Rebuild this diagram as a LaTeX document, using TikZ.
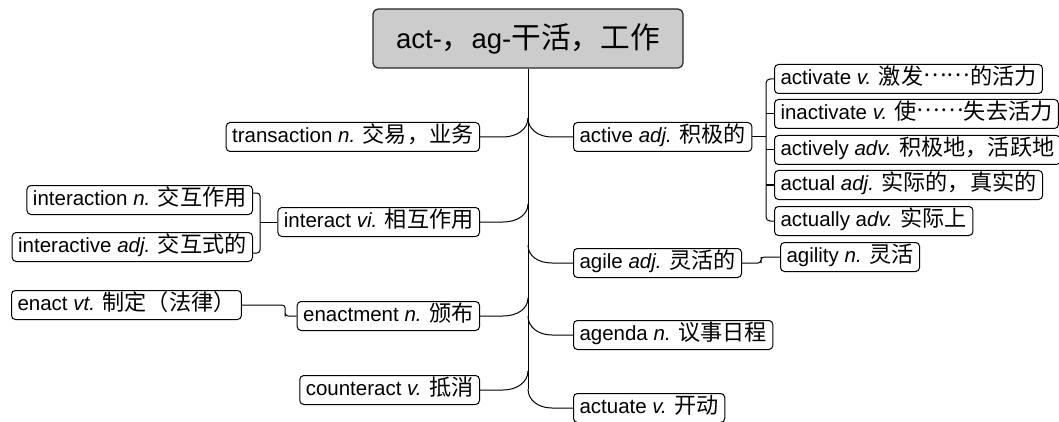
\documentclass[tikz,border=0pt]{standalone}
\usepackage{fontspec}
\setmainfont{Liberation Sans}
\newfontfamily\cjk[Scale=1.08]{Noto Sans CJK SC}
\newcommand\zh[1]{{\cjk #1}}
\newcommand\zdots{\raisebox{0.36em}{……}}
\usetikzlibrary{calc}
\tikzset{
  leaf/.style={draw=black, rounded corners=4pt, fill=white, line width=1pt,
    inner xsep=6pt, inner ysep=0pt, minimum height=29pt,
    text height=16pt, text depth=5pt, font=\fontsize{20.5}{24}\selectfont},
  ttl/.style={draw=black!85, rounded corners=5pt, fill=black!20, line width=1.2pt,
    minimum width=310pt, minimum height=59pt, font=\fontsize{27.5}{32}\selectfont},
  conn/.style={line width=1pt, black}
}
\begin{document}
\begin{tikzpicture}[x=1pt,y=-1pt]
\useasboundingbox (0,0) rectangle (1059,422);
\node[ttl] (title) at (528,38.5) {act-\zh{，}ag-\zh{干活，工作}};
% left
\node[leaf, anchor=east] (transaction) at (480,137) {transaction \textit{n.} \zh{交易，业务}};
\node[leaf, anchor=east] (interact) at (480,222) {interact \textit{vi.} \zh{相互作用}};
\node[leaf, anchor=east] (enactment) at (480,316) {enactment \textit{n.} \zh{颁布}};
\node[leaf, anchor=east] (counteract) at (480,390) {counteract \textit{v.} \zh{抵消}};
\node[leaf, anchor=east] (interaction) at (253,200) {interaction \textit{n.} \zh{交互作用}};
\node[leaf, anchor=east] (interactive) at (253,247) {interactive \textit{adj.} \zh{交互式的}};
\node[leaf, anchor=west] (enact) at (11,305) {enact \textit{vt.} \zh{制定（法律）}};
% right
\node[leaf, anchor=west] (active) at (573,137) {active \textit{adj.} \zh{积极的}};
\node[leaf, anchor=west] (agile) at (573,263) {agile \textit{adj.} \zh{灵活的}};
\node[leaf, anchor=west] (agenda) at (573,335) {agenda \textit{n.} \zh{议事日程}};
\node[leaf, anchor=west] (actuate) at (573,408) {actuate \textit{v.} \zh{开动}};
\node[leaf, anchor=west] (activate) at (774,79) {activate \textit{v.} \zh{激发\zdots 的活力}};
\node[leaf, anchor=west] (inactivate) at (774,114) {inactivate \textit{v.} \zh{使\zdots 失去活力}};
\node[leaf, anchor=west] (actively) at (774,150) {actively \textit{adv.} \zh{积极地，活跃地}};
\node[leaf, anchor=west] (actual) at (774,185) {actual \textit{adj.} \zh{实际的，真实的}};
\node[leaf, anchor=west] (actually) at (774,221) {actually a\textit{dv.} \zh{实际上}};
\node[leaf, anchor=west] (agility) at (780,257) {agility \textit{n.} \zh{灵活}};
% trunk
\coordinate (tA) at (528,118);
\coordinate (tB) at (528,204);
\coordinate (tC) at (528,245);
\coordinate (tD) at (528,298);
\coordinate (tE) at (528,316);
\coordinate (tF) at (528,371);
\coordinate (tG) at (528,389);
\draw[conn] (title.south) -- (tG);
% left branches
\draw[conn] (tA) .. controls +(0,11) and +(14,0) .. ([xshift=23pt]transaction.east) -- (transaction.east);
\draw[conn] (tB) .. controls +(0,11) and +(14,0) .. ([xshift=23pt]interact.east) -- (interact.east);
\draw[conn] (tD) .. controls +(0,11) and +(14,0) .. ([xshift=23pt]enactment.east) -- (enactment.east);
\draw[conn] (tF) .. controls +(0,11) and +(14,0) .. ([xshift=23pt]counteract.east) -- (counteract.east);
% right branches
\draw[conn] (tA) .. controls +(0,11) and +(-14,0) .. ([xshift=-21pt]active.west) -- (active.west);
\draw[conn] (tC) .. controls +(0,11) and +(-14,0) .. ([xshift=-21pt]agile.west) -- (agile.west);
\draw[conn] (tE) .. controls +(0,11) and +(-14,0) .. ([xshift=-21pt]agenda.west) -- (agenda.west);
\draw[conn] (tG) .. controls +(0,11) and +(-14,0) .. ([xshift=-21pt]actuate.west) -- (actuate.west);
% interact bracket
\coordinate (ib) at (260,222);
\draw[conn, rounded corners=3pt] ([yshift=7pt]interaction.east) -| (ib) |- ([yshift=-6pt]interactive.east);
\draw[conn] (ib) -- (interact.west);
% active bracket
\coordinate (ab) at (766,137);
\draw[conn] (active.east) -- (ab);
\draw[conn, rounded corners=4pt] (activate.west) -| (ab) |- (actually.west);
\draw[conn] (inactivate.west -| ab) -- (inactivate.west);
\draw[conn] (actively.west -| ab) -- (actively.west);
\draw[conn] (actual.west -| ab) -- (actual.west);
% steps
\draw[conn, rounded corners=3pt] (agile.east) -| ($(agile.east)!0.5!(agility.west)$) |- (agility.west);
\draw[conn, rounded corners=3pt] (enact.east) -| ($(enact.east)!0.79!(enactment.west)$) |- (enactment.west);
\end{tikzpicture}
\end{document}
